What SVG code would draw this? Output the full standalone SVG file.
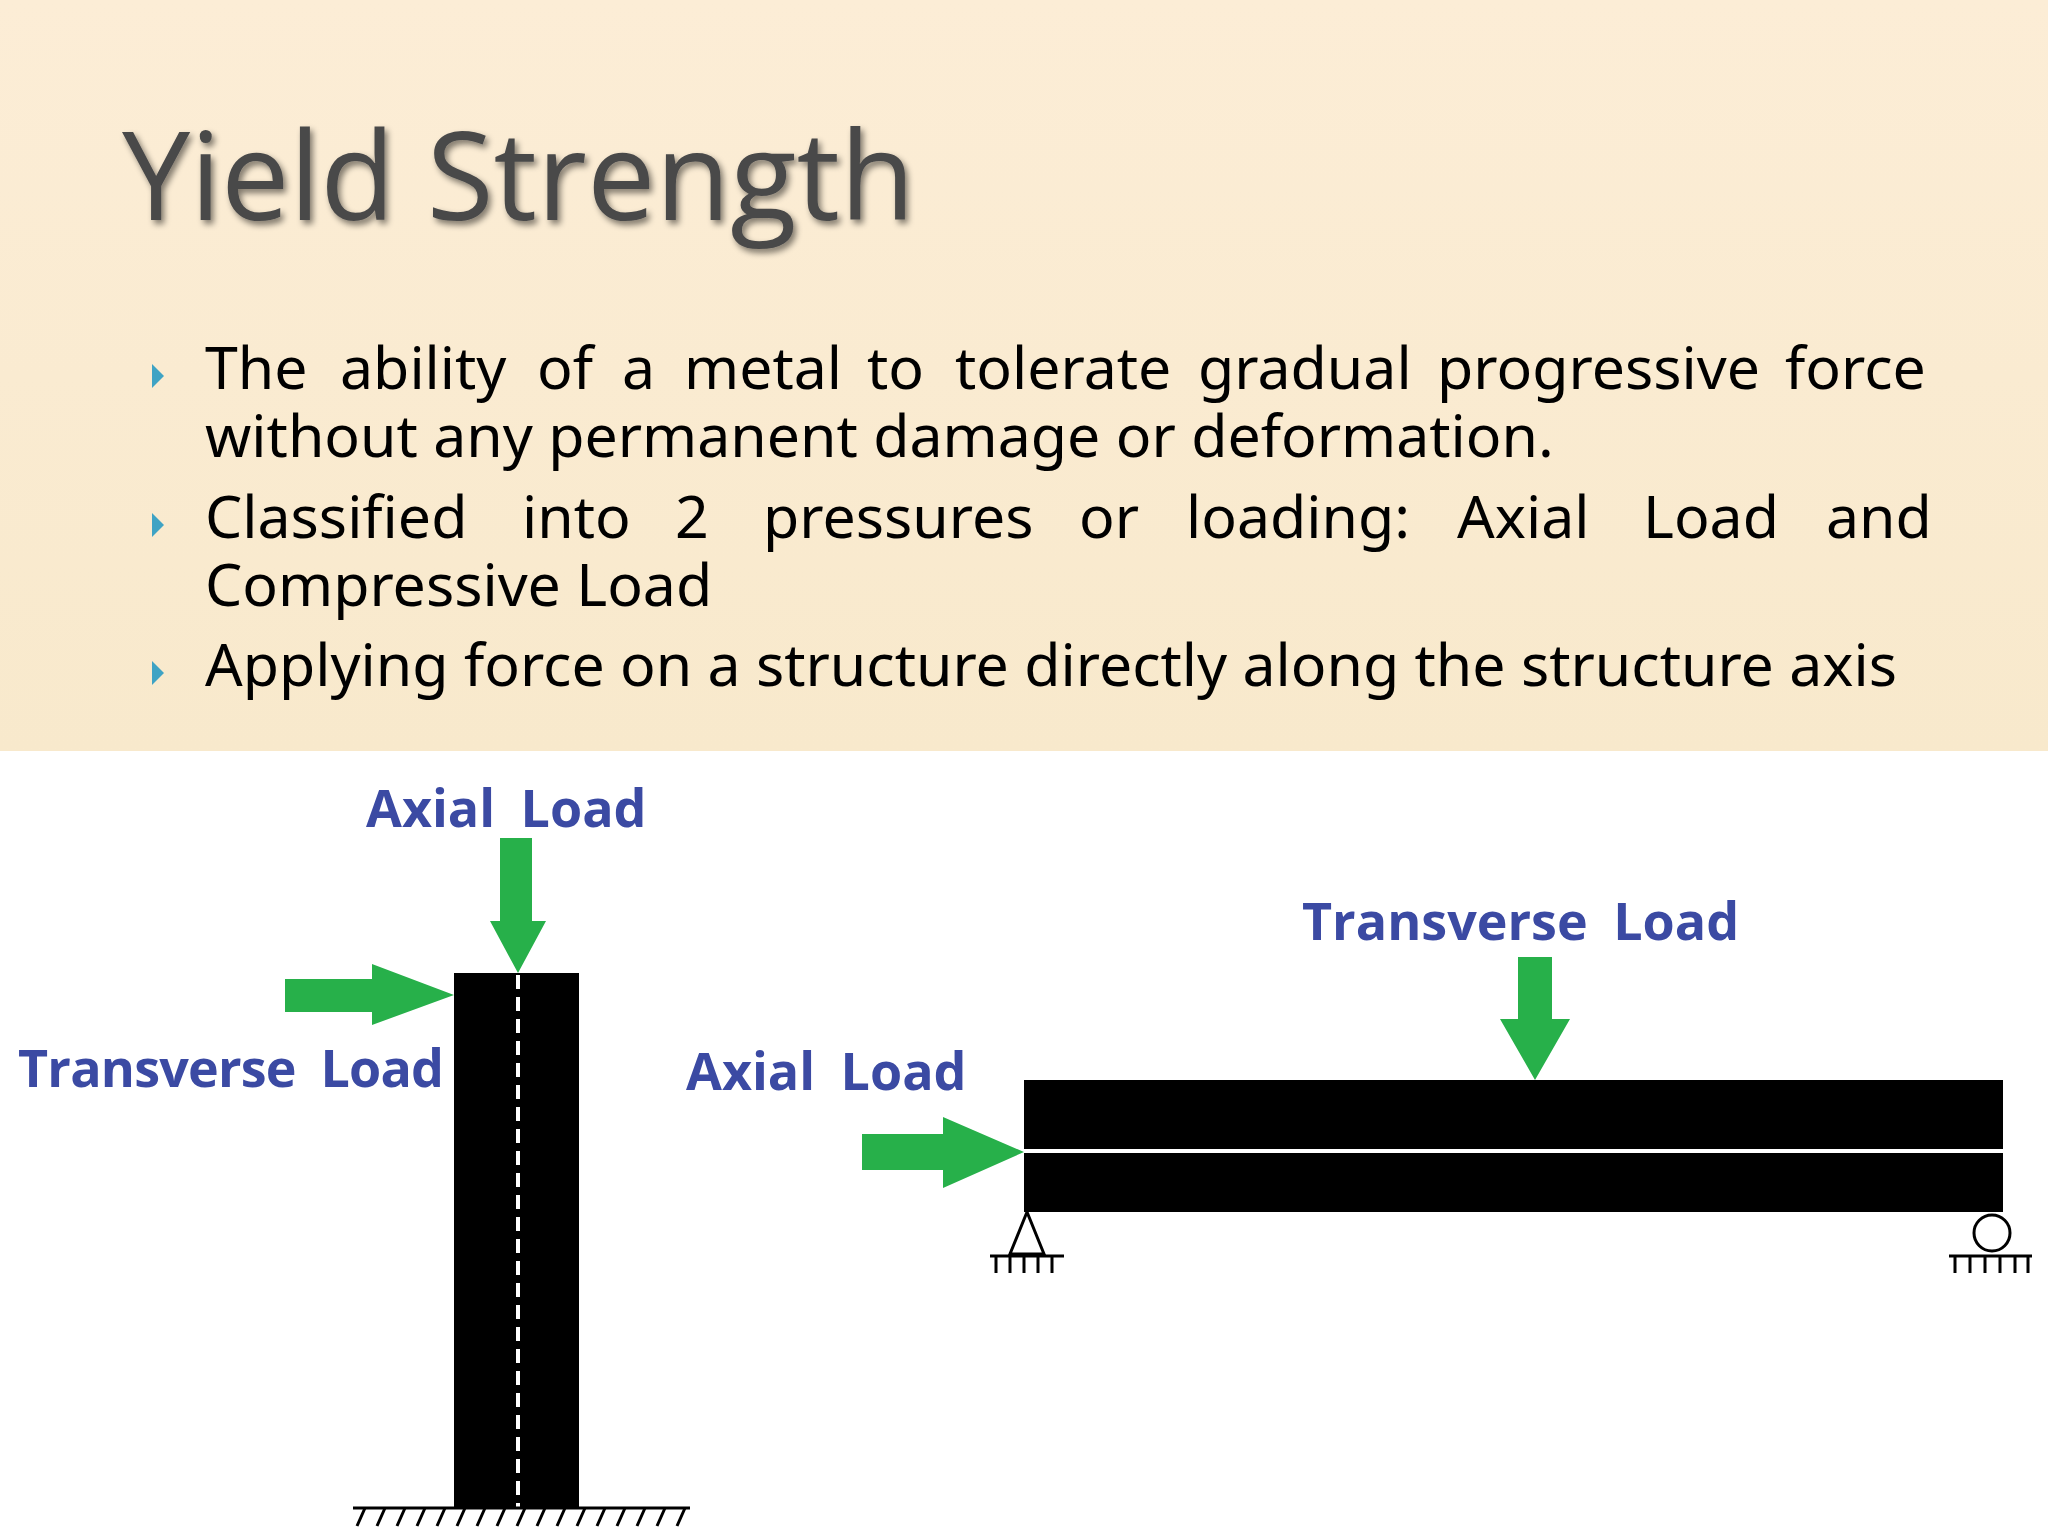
<svg xmlns="http://www.w3.org/2000/svg" width="2048" height="1536" viewBox="0 0 2048 1536">
<defs>
<linearGradient id="bg" x1="0" y1="0" x2="0" y2="1"><stop offset="0" stop-color="#fcedd6"/><stop offset="1" stop-color="#f8e9cc"/></linearGradient>
<filter id="sh"><feGaussianBlur in="SourceAlpha" stdDeviation="3"/><feOffset dx="3" dy="4"/><feComponentTransfer><feFuncA type="linear" slope="0.5"/></feComponentTransfer><feMerge><feMergeNode/><feMergeNode in="SourceGraphic"/></feMerge></filter>
<style>
.b{font-family:"Noto Sans","Open Sans",sans-serif;font-size:59px;fill:#000}
.lbl{font-family:"Open Sans","Noto Sans",sans-serif;font-weight:bold;font-size:52px;fill:#3b4aa3;word-spacing:12px}
.g{fill:#27b04a}
.h{stroke:#000;stroke-width:3;fill:none}
</style>
</defs>
<rect width="2048" height="1536" fill="#fff"/>
<rect width="2048" height="751" fill="url(#bg)"/>
<text x="122" y="220" font-family="Open Sans, Noto Sans, sans-serif" font-size="122" fill="#4a4a4a" filter="url(#sh)">Yield Strength</text>
<g fill="#3fa3c4">
<path d="M152,364 L164,376 L152,388Z"/><path d="M152,513 L164,525 L152,537Z"/><path d="M152,661 L164,673 L152,685Z"/>
</g>
<g class="b">
<text x="205" y="389">The</text><text x="340" y="389">ability</text><text x="537" y="389">of</text><text x="622" y="389">a</text><text x="684" y="389">metal</text><text x="867" y="389">to</text><text x="955" y="389">tolerate</text><text x="1198" y="389">gradual</text><text x="1437" y="389">progressive</text><text x="1785" y="389">force</text>
<text x="205" y="457">without any permanent damage or deformation.</text>
<text x="205" y="538">Classified</text><text x="522" y="538">into</text><text x="675" y="538">2</text><text x="763" y="538">pressures</text><text x="1079" y="538">or</text><text x="1186" y="538">loading:</text><text x="1457" y="538">Axial</text><text x="1643" y="538">Load</text><text x="1826" y="538">and</text>
<text x="205" y="606">Compressive Load</text>
<text x="205" y="686">Applying force on a structure directly along the structure axis</text>
</g>
<g id="column">
<rect x="454" y="973" width="125" height="535" fill="#000"/>
<line x1="518" y1="975" x2="518" y2="1508" stroke="#fff" stroke-width="4" stroke-dasharray="14,8"/>
<line x1="353" y1="1508" x2="690" y2="1508" class="h"/>
<path class="h" d="M365,1508 l-8,18 M385,1508 l-8,18 M405,1508 l-8,18 M425,1508 l-8,18 M445,1508 l-8,18 M465,1508 l-8,18 M485,1508 l-8,18 M505,1508 l-8,18 M525,1508 l-8,18 M545,1508 l-8,18 M565,1508 l-8,18 M585,1508 l-8,18 M605,1508 l-8,18 M625,1508 l-8,18 M645,1508 l-8,18 M665,1508 l-8,18 M685,1508 l-8,18"/>
</g>
<g id="beam">
<rect x="1024" y="1080" width="979" height="132" fill="#000"/>
<line x1="1024" y1="1151" x2="2003" y2="1151" stroke="#fff" stroke-width="4"/>
<path d="M1027,1212 L1010,1254 L1044,1254Z" fill="#fff" stroke="#000" stroke-width="3"/>
<line x1="990" y1="1256" x2="1064" y2="1256" class="h"/>
<path class="h" d="M996,1256 v17 M1010,1256 v17 M1024,1256 v17 M1038,1256 v17 M1052,1256 v17"/>
<circle cx="1992" cy="1233" r="18" fill="#fff" stroke="#000" stroke-width="3"/>
<line x1="1949" y1="1256" x2="2032" y2="1256" class="h"/>
<path class="h" d="M1955,1256 v17 M1970,1256 v17 M1985,1256 v17 M2000,1256 v17 M2015,1256 v17 M2028,1256 v17"/>
</g>
<g id="connectors">
<path class="g" d="M500,838 H532 V921 H546 L518,973 L490,921 H500Z"/>
<path class="g" d="M285,979 H372 V964 L454,995 L372,1025 V1012 H285Z"/>
<path class="g" d="M862,1134 H943 V1117 L1024,1152 L943,1188 V1170 H862Z"/>
<path class="g" d="M1518,957 H1552 V1019 H1570 L1535,1080 L1500,1019 H1518Z"/>
</g>
<g id="labels">
<text class="lbl" x="366" y="827">Axial Load</text>
<text class="lbl" x="18" y="1087" textLength="426">Transverse Load</text>
<text class="lbl" x="686" y="1090">Axial Load</text>
<text class="lbl" x="1302" y="940">Transverse Load</text>
</g>
</svg>
